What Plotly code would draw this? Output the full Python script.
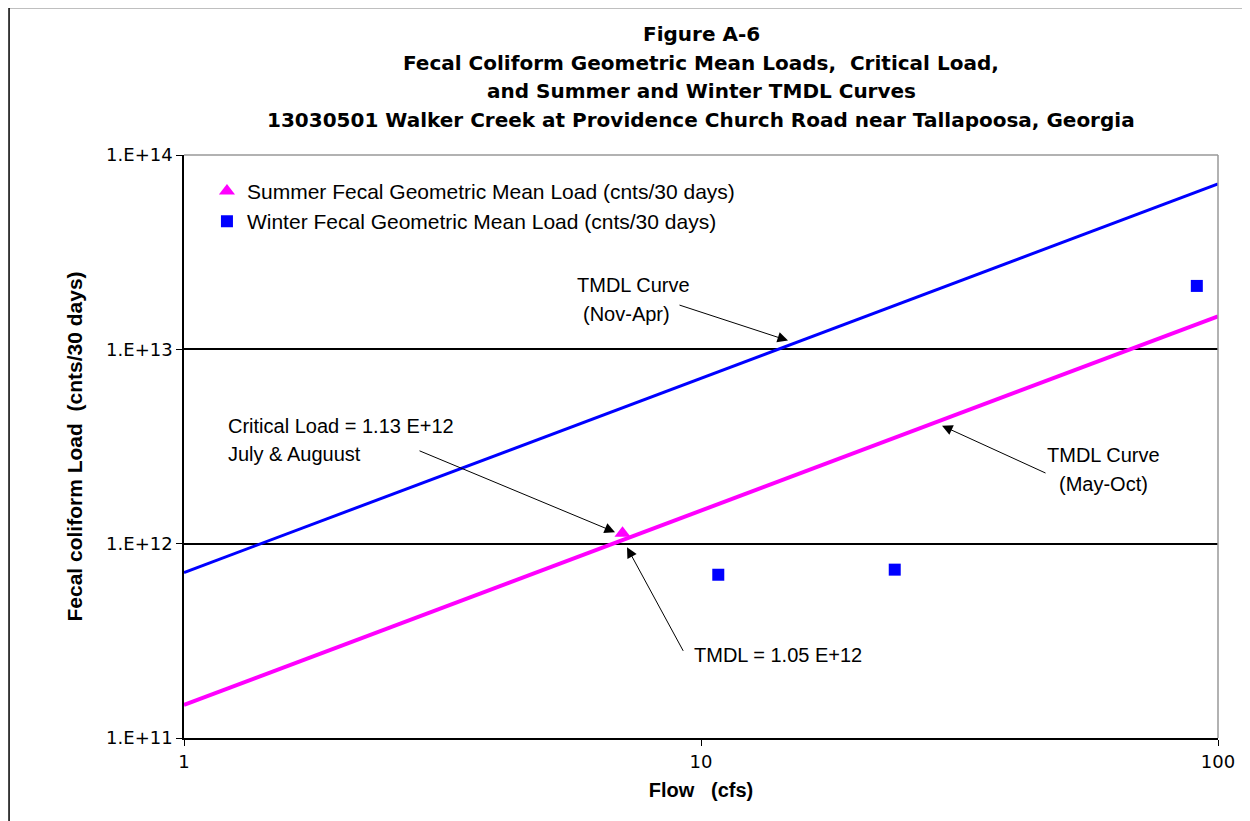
import plotly.graph_objects as go

# ---- data ----
flow_range = [1, 100]
winter_tmdl_load = [7.1e11, 7.1e13]     # TMDL Curve (Nov-Apr)
summer_tmdl_load = [1.48e11, 1.48e13]   # TMDL Curve (May-Oct)

summer_flow = [7.05]
summer_load = [1.13e12]

winter_flow = [10.8, 23.7, 91.0]
winter_load = [6.92e11, 7.35e11, 2.12e13]

y_tick_vals = [1e11, 1e12, 1e13, 1e14]
y_tick_text = ["1.E+11", "1.E+12", "1.E+13", "1.E+14"]
x_tick_vals = [1, 10, 100]
x_tick_text = ["1", "10", "100"]

FONT = "Liberation Sans, Arial, sans-serif"
WIDE = "DejaVu Sans, Verdana, sans-serif"

fig = go.Figure()
fig.add_trace(go.Scatter(x=flow_range, y=winter_tmdl_load, mode="lines",
                         line=dict(color="#0000FF", width=3), showlegend=False))
fig.add_trace(go.Scatter(x=flow_range, y=summer_tmdl_load, mode="lines",
                         line=dict(color="#FF00FF", width=4), showlegend=False))
fig.add_trace(go.Scatter(x=summer_flow, y=summer_load, mode="markers",
                         marker=dict(symbol="triangle-up", size=14, color="#FF00FF"),
                         name="Summer Fecal Geometric Mean Load (cnts/30 days)"))
fig.add_trace(go.Scatter(x=winter_flow, y=winter_load, mode="markers",
                         marker=dict(symbol="square", size=12, color="#0000FF"),
                         name="Winter Fecal Geometric Mean Load (cnts/30 days)"))

ann = []
title_lines = ["Figure A-6",
               "Fecal Coliform Geometric Mean Loads,  Critical Load,",
               "and Summer and Winter TMDL Curves",
               "13030501 Walker Creek at Providence Church Road near Tallapoosa, Georgia"]
for i, t in enumerate(title_lines):
    ann.append(dict(text="<b>%s</b>" % t, xref="paper", yref="paper",
                    x=0.5, y=(730 - (36 + 28 * i)) / 575.0, xanchor="center", yanchor="middle",
                    showarrow=False, font=dict(family=WIDE, size=20, color="black")))

txt_font = dict(family=FONT, size=20, color="black")
arrows = [
    (0.8337, 12.059, -197, -82),   # critical load
    (1.1683, 13.045, -110, -36),   # Nov-Apr
    (1.4662, 12.607, 105, 48),     # May-Oct
    (0.8569, 11.981, 57, 105),     # TMDL = 1.05
]
for hx, hy, ax, ay in arrows:
    ann.append(dict(x=hx, y=hy, xref="x", yref="y", text="", showarrow=True,
                    ax=ax, ay=ay, axref="pixel", ayref="pixel",
                    arrowhead=2, arrowsize=2.1, arrowwidth=1, arrowcolor="black"))

texts = [
    ("Critical Load = 1.13 E+12", 0.0812, 12.604, "left"),
    ("July & Auguust", 0.0812, 12.463, "left"),
    ("TMDL Curve", 0.870, 13.331, "center"),
    ("(Nov-Apr)", 0.856, 13.180, "center"),
    ("TMDL Curve", 1.7776, 12.455, "center"),
    ("(May-Oct)", 1.7776, 12.309, "center"),
    ("TMDL = 1.05 E+12", 0.9826, 11.428, "left"),
]
for t, x, y, anc in texts:
    ann.append(dict(text=t, x=x, y=y, xref="x", yref="y", showarrow=False,
                    xanchor=anc, yanchor="middle", font=txt_font))

shapes = [
    dict(type="rect", xref="paper", yref="paper", x0=-0.1692, x1=1.2, y0=-0.4, y1=1.2530,
         line=dict(color="black", width=1.5), layer="below"),
    dict(type="line", xref="paper", yref="paper", x0=0, x1=1, y0=1, y1=1,
         line=dict(color="#999999", width=1.5)),
    dict(type="line", xref="paper", yref="paper", x0=1, x1=1, y0=0, y1=1,
         line=dict(color="#999999", width=1.5)),
]

fig.update_layout(
    width=1242, height=813,
    margin=dict(l=176, r=32, t=147, b=83),
    paper_bgcolor="white", plot_bgcolor="white",
    font=dict(family=FONT, size=20, color="black"),
    annotations=ann, shapes=shapes,
    legend=dict(x=0.0222, y=0.973, xanchor="left", yanchor="top",
                bgcolor="rgba(0,0,0,0)", font=dict(family=FONT, size=21),
                itemwidth=30, tracegroupgap=0),
)
fig.update_xaxes(type="log", range=[0, 2], tickvals=x_tick_vals, ticktext=x_tick_text,
                 showgrid=False, zeroline=False, showline=True, linecolor="black", linewidth=2,
                 ticks="outside", ticklen=6, tickcolor="black",
                 tickfont=dict(family=WIDE, size=18),
                 title=dict(text="<b>Flow   (cfs)</b>", font=dict(family=FONT, size=20), standoff=12))
fig.update_yaxes(type="log", range=[11, 14], tickvals=y_tick_vals, ticktext=y_tick_text,
                 showgrid=True, gridcolor="black", gridwidth=1.5, zeroline=False,
                 showline=True, linecolor="black", linewidth=1.5,
                 ticks="outside", ticklen=6, tickcolor="black",
                 tickfont=dict(family=WIDE, size=18),
                 title=dict(text="<b>Fecal coliform Load  (cnts/30 days)</b>",
                            font=dict(family=FONT, size=21), standoff=18))

fig.write_html("out.html")
